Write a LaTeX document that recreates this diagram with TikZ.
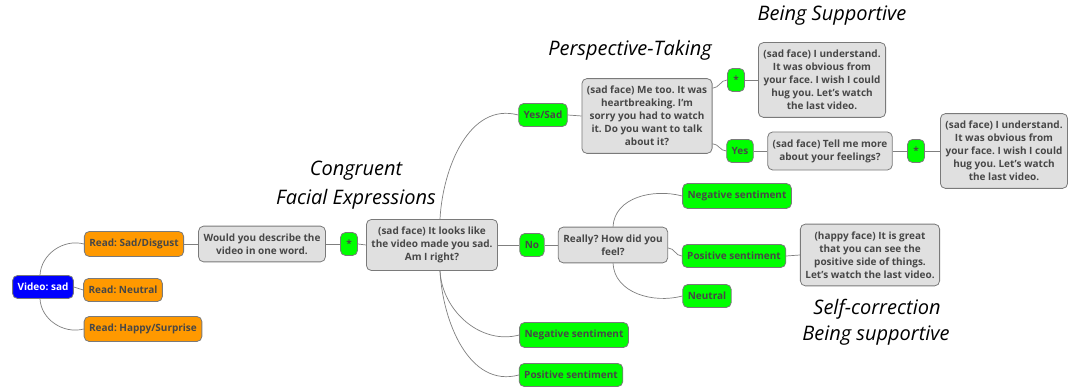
\documentclass[tikz,border=0pt]{standalone}
\usepackage{fontspec}
\setmainfont{Open Sans}
\usetikzlibrary{calc}
\definecolor{lnc}{HTML}{7F7F7F}
\definecolor{bordc}{HTML}{7A7A7A}
\definecolor{txtc}{HTML}{474747}
\definecolor{grayc}{HTML}{E0E0E0}
\definecolor{orangec}{HTML}{FF9900}
\definecolor{greenc}{HTML}{00FF00}
\definecolor{bluec}{HTML}{0000FF}
\newcommand{\apo}{{\char"27}}
\frenchspacing
\tikzset{
  box/.style={draw=bordc, line width=0.8pt, rounded corners=5pt, inner xsep=5pt, inner ysep=7.5pt,
    minimum height=23pt, align=center, font=\bfseries\fontsize{10}{13}\selectfont\frenchspacing, text=txtc},
  gbox/.style={box, fill=grayc},
  obox/.style={box, fill=orangec},
  grn/.style={box, fill=greenc},
  bbox/.style={box, fill=bluec, text=white},
  starbox/.style={grn, minimum width=17pt, inner xsep=2pt},
  conn/.style={draw=lnc, line width=0.7pt},
  upc/.style={out=87, in=165},
  downc/.style={out=-87, in=195},
  sc/.style={out=0, in=180},
  lab/.style={font=\itshape\fontsize{20}{24}\selectfont, text=black, inner sep=0pt}
}
\begin{document}
\begin{tikzpicture}[x=1pt,y=1pt]
\useasboundingbox (0,0) rectangle (1068,387);
% nodes
\node[bbox] (vid) at (43,100) {Video: sad};
\node[obox] (rsad) at (134,143) {Read: Sad/Disgust};
\node[obox] (rneu) at (123,97) {Read: Neutral};
\node[obox] (rhap) at (143,58) {Read: Happy/Surprise};
\node[gbox] (would) at (262,143) {Would you describe the\\video in one word.};
\node[starbox] (st1) at (349,143) {*};
\node[gbox] (looks) at (432,142) {(sad face) It looks like\\the video made you sad.\\Am I right?};
\node[grn] (no) at (532,142) {No};
\node[gbox] (really) at (613,142) {Really? How did you\\feel?};
\node[grn] (negs1) at (737,191) {Negative sentiment};
\node[grn] (poss1) at (734,131) {Positive sentiment};
\node[grn] (neut) at (707,91) {Neutral};
\node[gbox] (happy) at (870,132) {(happy face) It is great\\that you can see the\\positive side of things.\\Let\apo s watch the last video.};
\node[grn] (negs2) at (574,52) {Negative sentiment};
\node[grn] (poss2) at (571,12) {Positive sentiment};
\node[grn] (yessad) at (543,272) {Yes/Sad};
\node[gbox] (metoo) at (647,271) {(sad face) Me too. It was\\heartbreaking. I\apo m\\sorry you had to watch\\it. Do you want to talk\\about it?};
\node[starbox] (st2) at (736,307) {*};
\node[gbox] (und1) at (822,307) {(sad face) I understand.\\It was obvious from\\your face. I wish I could\\hug you. Let\apo s watch\\the last video.};
\node[grn] (yes) at (740,236) {Yes};
\node[gbox] (tell) at (830,236) {(sad face) Tell me more\\about your feelings?};
\node[starbox] (st3) at (916,236) {*};
\node[gbox] (und2) at (1004,236) {(sad face) I understand.\\It was obvious from\\your face. I wish I could\\hug you. Let\apo s watch\\the last video.};
% labels
\node[lab] (lbs) at (832,371) {Being Supportive};
\node[lab] (lpt) at (630,337) {Perspective-Taking};
\node[lab] (lc1) at (356,216) {Congruent};
\node[lab] (lc2) at (356,188) {Facial Expressions};
\node[lab] (ls1) at (877,78) {Self-correction};
\node[lab] (ls2) at (876,51) {Being supportive};
% connectors
\draw[conn] ([xshift=-3pt]vid.north) to[upc] (rsad.west);
\draw[conn] (vid.east) -- (rneu.west);
\draw[conn] ([xshift=-3pt]vid.south) to[downc] (rhap.west);
\draw[conn] (rsad.east) -- (would.west);
\draw[conn] (would.east) -- (st1.west);
\draw[conn] (st1.east) -- (looks.west);
\draw[conn] ([xshift=8pt]looks.north) to[upc] (yessad.west);
\draw[conn] (looks.east) -- (no.west);
\draw[conn] ([xshift=8pt]looks.south) to[downc] (negs2.west);
\draw[conn] ([xshift=8pt]looks.south) to[downc] (poss2.west);
\draw[conn] (yessad.east) -- (metoo.west);
\draw[conn] ([yshift=-10pt]metoo.north east) to[sc] (st2.west);
\draw[conn] ([yshift=10pt]metoo.south east) to[sc] (yes.west);
\draw[conn] (st2.east) -- (und1.west);
\draw[conn] (yes.east) -- (tell.west);
\draw[conn] (tell.east) -- (st3.west);
\draw[conn] (st3.east) -- (und2.west);
\draw[conn] (no.east) -- (really.west);
\draw[conn] (really.north) to[upc] (negs1.west);
\draw[conn] ([yshift=-3pt]really.east) to[sc] (poss1.west);
\draw[conn] (really.south) to[downc] (neut.west);
\draw[conn] (poss1.east) -- (happy.west);
\end{tikzpicture}
\end{document}
